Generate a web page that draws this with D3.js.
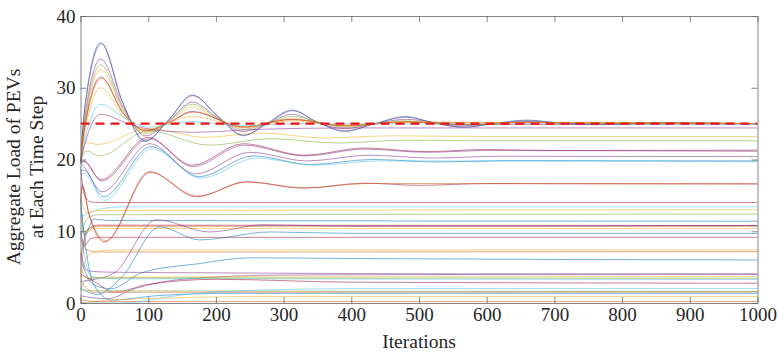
<!DOCTYPE html>
<html>
<head>
<meta charset="utf-8">
<script src="https://cdn.jsdelivr.net/npm/d3@7/dist/d3.min.js"></script>
<style>
  body { margin: 0; background: #fff; }
  svg text { font-family: "Liberation Serif", "Times New Roman", serif; fill: #262626; }
</style>
</head>
<body>
<svg id="chart" width="778" height="352"></svg>
<script>
// ---- data: [iteration, aggregate load] ----
var xTicks = [0, 100, 200, 300, 400, 500, 600, 700, 800, 900, 1000];
var yTicks = [0, 10, 20, 30, 40];
var targetLoad = 25;

// time steps whose load oscillates and settles on the target (25)
var nearTarget = [
  [[0,19.5],[6,27],[30,36.3],[62,28],[95,22.5],[130,25.5],[165,29],[203,26],[240,23.3],[275,25],[312,26.9],[350,25.2],[390,23.9],[435,25],[480,26],[522,25.1],[565,24.5],[610,25],[660,25.5],[710,25.05],[760,24.85],[860,25.15],[950,25],[1000,25]],
  [[0,19.5],[6,26.8],[31,36.1],[62,28],[96,22.6],[130,25.5],[166,28.9],[203,26],[241,23.4],[276,25],[313,26.8],[350,25.2],[391,24],[435,25],[481,25.9],[522,25.1],[566,24.5],[610,25],[661,25.4],[710,25.05],[760,24.9],[860,25.1],[1000,25]],
  [[0,19.5],[6,25.5],[30,34],[63,27.3],[96,23.3],[130,25.3],[165,28],[203,25.8],[240,23.9],[276,25],[312,26.3],[350,25.1],[390,24.3],[435,25],[480,25.6],[565,24.7],[660,25.3],[760,24.9],[860,25.1],[1000,25]],
  [[0,19.5],[6,25],[30,33.2],[63,27],[96,23.6],[130,25.3],[165,27.7],[203,25.7],[240,24.2],[276,25],[312,26],[390,24.5],[480,25.4],[565,24.8],[660,25.2],[1000,25]],
  [[0,19.5],[6,24.7],[30,32.5],[63,26.8],[96,23.8],[130,25.2],[165,27.3],[203,25.6],[240,24.4],[312,25.7],[390,24.6],[480,25.3],[565,24.85],[660,25.15],[1000,25]],
  [[0,19.5],[6,24.3],[30,31.5],[63,26.5],[97,24],[130,25.1],[165,26.7],[240,24.5],[312,25.6],[390,24.7],[480,25.25],[565,24.9],[1000,25]],
  [[0,19.5],[6,24.2],[31,31.3],[63,26.4],[97,24.05],[130,25.1],[166,26.6],[241,24.55],[313,25.55],[391,24.75],[481,25.2],[1000,25]],
  [[0,19.5],[6,23.5],[30,30],[63,26],[97,24.2],[165,26],[240,24.6],[312,25.4],[390,24.8],[480,25.2],[1000,25]],
  [[0,19.5],[6,22.5],[30,27.7],[65,25.8],[100,24.5],[165,25.3],[240,24.7],[320,25],[1000,24.85]],
  [[0,19.5],[6,22],[30,26.3],[70,25],[110,24.1],[170,23.8],[260,24.2],[400,24.4],[1000,24.4]]
];

// steps that settle a little below the target (about 19.8 .. 23.2)
var belowTarget = [
  [[0,19.5],[8,22.4],[25,22.1],[100,24.3],[185,23.1],[265,23.7],[360,23],[460,23.3],[600,23.2],[1000,23.2]],
  [[0,19.5],[8,21.2],[28,20.5],[100,24],[190,22],[280,22.9],[380,22.3],[480,22.7],[600,22.6],[1000,22.6]],
  [[0,19.5],[5,19.8],[30,17.2],[100,23.1],[165,19.2],[240,22.2],[330,20.6],[420,21.6],[510,21.1],[600,21.4],[700,21.25],[1000,21.3]],
  [[0,19.5],[5,19.7],[31,17],[101,22.9],[166,19],[241,22],[331,20.5],[421,21.45],[511,21],[600,21.25],[1000,21.15]],
  [[0,19.5],[5,19],[32,15.5],[102,22.2],[170,18],[250,21],[335,19.8],[425,20.6],[520,20.2],[620,20.45],[1000,20.4]],
  [[0,18.5],[5,18.5],[34,14.8],[104,21.8],[175,17.6],[255,20.5],[340,19.3],[430,20],[530,19.65],[630,19.85],[1000,19.8]],
  [[0,18],[5,18],[35,14.3],[105,21.5],[178,17.4],[260,20.2],[345,19.2],[440,19.8],[1000,19.7]]
];

// the pair that dips to ~8.5 and settles near 16.6
var midSteps = [
  [[0,14],[3,16.4],[12,12.5],[36,8.5],[102,18.3],[171,14.8],[245,16.9],[330,16],[420,16.7],[500,16.4],[600,16.65],[1000,16.6]],
  [[0,14],[3,16.2],[12,12.7],[37,8.7],[103,18.2],[172,14.9],[246,16.85],[331,16.05],[421,16.65],[1000,16.6]]
];

// steps that flatten out almost at once, plus the slow low ones
var lowSteps = [
  [[0,19],[6,15],[15,14.1],[30,14],[1000,14]],
  [[0,12],[10,12.4],[30,13.1],[60,13.4],[1000,13.4]],
  [[0,15],[8,12.6],[25,12.9],[1000,13]],
  [[0,9],[10,11.8],[25,12.3],[1000,12.4]],
  [[0,14],[6,9.5],[20,11.7],[40,11.5],[1000,11.4]],
  [[0,4],[10,9.8],[25,10.7],[1000,10.7]],
  [[0,6],[10,10.2],[25,10.85],[1000,10.8]],
  [[0,12],[8,10],[20,10.4],[1000,10.4]],
  [[0,10],[6,8],[15,9],[30,9.15],[1000,9.15]],
  [[0,3],[10,6.5],[30,7.3],[60,7.4],[1000,7.4]],
  [[0,9],[8,7.5],[25,7.1],[1000,7.15]],
  [[0,3],[15,3.2],[50,4.2],[112,11.6],[191,9.9],[270,10.9],[400,10.7],[1000,10.8]],
  [[0,2],[25,1.2],[60,3.5],[117,10.6],[176,8.8],[280,9.9],[400,9.7],[1000,9.7]],
  [[0,6],[20,2.5],[45,2],[90,4.2],[176,5.5],[250,6.3],[400,6.2],[1000,6]],
  [[0,7],[10,4.5],[40,4.3],[200,4.2],[400,4.1],[1000,4]],
  [[0,1],[40,0.6],[80,2],[150,3.3],[300,3.9],[1000,4.05]],
  [[0,5],[10,3.5],[30,3.6],[1000,3.7]],
  [[0,10],[15,3.8],[40,3.4],[1000,3.3]],
  [[0,2],[12,3.4],[30,3.5],[1000,3.45]],
  [[0,4],[20,3],[50,1.5],[100,2.6],[200,3.3],[400,2.9],[1000,2.75]],
  [[0,2],[15,1.7],[1000,1.6]],
  [[0,3],[20,1.5],[1000,1.55]],
  [[0,14.5],[6,9],[20,2.5],[45,0.4],[110,1],[220,1.35],[1000,1.35]],
  [[0,0],[30,0.3],[100,0.6],[250,0.9],[1000,0.9]],
  [[0,0.5],[20,0.2],[1000,0.2]],
  [[0,0],[60,0],[90,0.2],[132,0.9],[265,1.8],[400,2],[1000,2]]
];

// MATLAB default line colours
var matlabColors = ["#0072BD", "#D95319", "#EDB120", "#7E2F8E", "#77AC30", "#4DBEEE", "#A2142F"];
var nearTargetColor = [0, 3, 3, 4, 2, 6, 1, 2, 5, 3];
var belowTargetColor = [2, 4, 6, 3, 3, 0, 5];
var midStepsColor = [6, 1];
var lowStepsColor = [6, 5, 2, 4, 0, 1, 6, 2, 6, 2, 1, 3, 0, 0, 3, 3, 2, 5, 4, 6, 4, 1, 0, 2, 1, 5];

var svg = d3.select("#chart");
var plotLeft = 80.5, plotRight = 757.5, plotTop = 16, plotBottom = 303;

var x = d3.scaleLinear().domain([0, 1000]).range([plotLeft, plotRight]);
var y = d3.scaleLinear().domain([0, 40]).range([plotBottom, plotTop]);

svg.append("clipPath").attr("id", "plotClip")
  .append("rect")
  .attr("x", plotLeft).attr("y", plotTop)
  .attr("width", plotRight - plotLeft).attr("height", plotBottom - plotTop);

var line = d3.line()
  .x(function(d) { return x(d[0]); })
  .y(function(d) { return y(d[1]); })
  .curve(d3.curveMonotoneX);

var lines = svg.append("g").attr("clip-path", "url(#plotClip)");

function drawGroup(group, colorIdx) {
  group.forEach(function(pts, i) {
    lines.append("path")
      .attr("d", line(pts))
      .attr("fill", "none")
      .attr("stroke", matlabColors[colorIdx[i]])
      .attr("stroke-width", 0.75)
      .attr("stroke-opacity", 0.72);
  });
}

drawGroup(lowSteps, lowStepsColor);
drawGroup(midSteps, midStepsColor);
drawGroup(belowTarget, belowTargetColor);
drawGroup(nearTarget, nearTargetColor);

// target load, red dashed
lines.append("path")
  .attr("d", line([[0, targetLoad], [1000, targetLoad]]))
  .attr("fill", "none")
  .attr("stroke", "#e8141c")
  .attr("stroke-width", 2.4)
  .attr("stroke-dasharray", "9,6");

// axes, ticks pointing inward on all four sides
var axisColor = "#666";

var gx = svg.append("g").attr("transform", "translate(0," + plotBottom + ")")
  .call(d3.axisBottom(x).tickValues(xTicks).tickSize(-6).tickSizeOuter(0).tickPadding(5).tickFormat(d3.format("d")));
var gy = svg.append("g").attr("transform", "translate(" + plotLeft + ",0)")
  .call(d3.axisLeft(y).tickValues(yTicks).tickSize(-6).tickSizeOuter(0).tickPadding(5));
var gt = svg.append("g").attr("transform", "translate(0," + plotTop + ")")
  .call(d3.axisTop(x).tickValues(xTicks).tickSize(-6).tickSizeOuter(0).tickFormat(""));
var gr = svg.append("g").attr("transform", "translate(" + plotRight + ",0)")
  .call(d3.axisRight(y).tickValues(yTicks).tickSize(-6).tickSizeOuter(0).tickFormat(""));

[gx, gy, gt, gr].forEach(function(g) {
  g.select(".domain").attr("stroke", axisColor).attr("stroke-width", 0.8);
  g.selectAll(".tick line").attr("stroke", axisColor).attr("stroke-width", 0.8);
  g.selectAll(".tick text").attr("font-size", 19).attr("font-family", null).style("fill", "#262626");
});

// axis titles
svg.append("text")
  .attr("x", (plotLeft + plotRight) / 2)
  .attr("y", 348)
  .attr("text-anchor", "middle")
  .attr("font-size", 19.5)
  .text("Iterations");

var yTitle = svg.append("text")
  .attr("transform", "translate(20,167) rotate(-90)")
  .attr("text-anchor", "middle")
  .attr("font-size", 19.5);
yTitle.append("tspan").attr("x", 0).attr("y", 0).text("Aggregate Load of PEVs");
yTitle.append("tspan").attr("x", 0).attr("y", 23).text("at Each Time Step");
</script>
</body>
</html>
